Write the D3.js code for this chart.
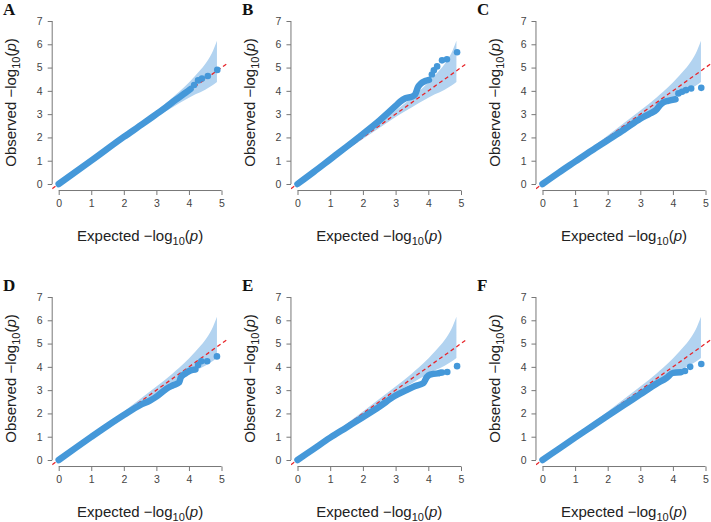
<!DOCTYPE html>
<html>
<head>
<meta charset="utf-8">
<script src="https://cdn.jsdelivr.net/npm/d3@7"></script>
<style>
  body { margin: 0; background: #fff; }
  .tick text { font-family: "Liberation Sans", Arial, sans-serif; font-size: 10.5px; fill: #444; }
  .tick line { stroke: #777; }
  .axis-title { font-family: "Liberation Sans", Arial, sans-serif; font-size: 15px; fill: #222; }
  .panel-label { font-family: "Liberation Serif", "Times New Roman", serif; font-weight: bold; font-size: 17px; fill: #111; }
</style>
</head>
<body>
<div id="chart"></div>
<script>
// ---- data ----
const panelLabels = ["A", "B", "C", "D", "E", "F"];
const xTicks = [0, 1, 2, 3, 4, 5];
const yTicks = [0, 1, 2, 3, 4, 5, 6, 7];

// 95% band (same in all panels)
const bandExpected = [0, 1, 2, 2.5, 3, 3.5, 3.7, 4.0, 4.2, 4.5, 4.7, 4.86];
const bandUpper    = [0.01, 1.03, 2.08, 2.62, 3.16, 3.72, 3.96, 4.36, 4.66, 5.15, 5.6, 6.15];
const bandLower    = [0, 0.96, 1.93, 2.41, 2.88, 3.3, 3.47, 3.7, 3.85, 4.05, 4.22, 4.38];

// dense run of points (expected, observed)
const denseA = [[0,0],[1,1],[2,2.02],[2.6,2.6],[3,3.0],[3.3,3.3],[3.6,3.62],[3.9,3.92],[4.05,4.08]];
const denseB = [[0,0],[0.5,0.52],[1,1.06],[1.5,1.6],[2,2.15],[2.5,2.72],[3,3.35],[3.15,3.55],[3.3,3.68],[3.5,3.75],[3.6,3.85],[3.68,4.15],[3.78,4.32],[3.9,4.42],[4.02,4.47]];
const denseC = [[0,0],[0.5,0.49],[1,0.96],[1.5,1.43],[2,1.88],[2.5,2.33],[3,2.8],[3.3,3.03],[3.5,3.2],[3.6,3.38],[3.7,3.5],[3.85,3.57],[4.08,3.64]];
const denseD = [[0,0],[0.5,0.5],[1,0.99],[1.5,1.47],[2,1.93],[2.5,2.36],[2.8,2.55],[3,2.72],[3.3,3.05],[3.5,3.2],[3.7,3.33],[3.75,3.55],[3.9,3.72],[4.05,3.85],[4.2,3.89]];
const denseE = [[0,0],[0.5,0.48],[1,0.96],[1.5,1.4],[2,1.84],[2.5,2.29],[3,2.77],[3.3,2.98],[3.6,3.18],[3.85,3.3],[3.95,3.55],[4.05,3.67],[4.3,3.72]];
const denseF = [[0,0],[0.5,0.48],[1,0.96],[1.5,1.43],[2,1.9],[2.5,2.36],[3,2.82],[3.5,3.28],[3.8,3.52],[4,3.74],[4.25,3.77]];

// isolated top points
const tailA = [[4.16,4.25],[4.28,4.45],[4.4,4.53],[4.58,4.64],[4.87,4.9]];
const tailB = [[4.11,4.7],[4.17,4.88],[4.27,5.05],[4.42,5.31],[4.57,5.36],[4.88,5.66]];
const tailC = [[4.17,3.89],[4.28,3.96],[4.4,4.03],[4.56,4.1],[4.87,4.13]];
const tailD = [[4.28,4.08],[4.38,4.24],[4.56,4.24],[4.86,4.45]];
const tailE = [[4.36,3.75],[4.42,3.76],[4.58,3.78],[4.88,4.03]];
const tailF = [[4.37,3.82],[4.53,4.0],[4.87,4.12]];

const denseAll = [denseA, denseB, denseC, denseD, denseE, denseF];
const tailAll = [tailA, tailB, tailC, tailD, tailE, tailF];

// ---- layout ----
const W = 711, H = 522;
const cols = [{x0: 58.7, x5: 221.5, lab: 3}, {x0: 297.5, x5: 461, lab: 242}, {x0: 542.5, x5: 705.5, lab: 477}];
const rows = [{y0: 184, y7: 21}, {y0: 460, y7: 297}];

const pointColor = "#4598d9";
const bandColor = "#b2d3f0";

const svg = d3.select("#chart").append("svg")
    .attr("width", W)
    .attr("height", H);

const band = bandExpected.map((x, i) => ({x: x, lo: bandLower[i], hi: bandUpper[i]}));

panelLabels.forEach((lab, i) => {
    let c = cols[i % 3], r = rows[Math.floor(i / 3)];
    let ux = (c.x5 - c.x0) / 5, uy = (r.y0 - r.y7) / 7;

    // plot region like base R: 4% extension
    let x = d3.scaleLinear().domain([-0.2, 5.2]).range([c.x0 - 0.2 * ux, c.x5 + 0.2 * ux]);
    let y = d3.scaleLinear().domain([-0.28, 7.28]).range([r.y0 + 0.28 * uy, r.y7 - 0.28 * uy]);

    let g = svg.append("g");

    let clipId = "clip" + i;
    g.append("clipPath").attr("id", clipId)
        .append("rect")
        .attr("x", x(-0.2)).attr("y", y(7.28))
        .attr("width", x(5.2) - x(-0.2)).attr("height", y(-0.28) - y(7.28));

    let plot = g.append("g").attr("clip-path", `url(#${clipId})`);

    // confidence band
    plot.append("path")
        .datum(band)
        .attr("fill", bandColor)
        .attr("d", d3.area().x(d => x(d.x)).y0(d => y(d.lo)).y1(d => y(d.hi)).curve(d3.curveMonotoneX));

    // y = x reference
    plot.append("line")
        .attr("x1", x(-0.2)).attr("y1", y(-0.2))
        .attr("x2", x(5.2)).attr("y2", y(5.2))
        .attr("stroke", "#e8252a")
        .attr("stroke-width", 1.3)
        .attr("stroke-dasharray", "4,3");

    // dense points drawn as a thick run
    plot.append("path")
        .datum(denseAll[i])
        .attr("fill", "none")
        .attr("stroke", pointColor)
        .attr("stroke-width", 6.5)
        .attr("stroke-linecap", "round")
        .attr("stroke-linejoin", "round")
        .attr("d", d3.line().x(d => x(d[0])).y(d => y(d[1])).curve(d3.curveMonotoneX));

    plot.selectAll(".pt")
        .data(tailAll[i])
        .enter().append("circle")
        .attr("class", "pt")
        .attr("cx", d => x(d[0]))
        .attr("cy", d => y(d[1]))
        .attr("r", 3.3)
        .attr("fill", pointColor);

    // axes
    let xAxis = d3.axisBottom(x).tickValues(xTicks).tickSize(4.5).tickPadding(5).tickFormat(d3.format("d"));
    let yAxis = d3.axisLeft(y).tickValues(yTicks).tickSize(4.5).tickPadding(5).tickFormat(d3.format("d"));

    let xg = g.append("g").attr("transform", `translate(0,${y(-0.28)})`).call(xAxis);
    xg.select(".domain").remove();
    xg.append("line").attr("x1", x(0)).attr("x2", x(5)).attr("stroke", "#777");

    let yg = g.append("g").attr("transform", `translate(${x(-0.2)},0)`).call(yAxis);
    yg.select(".domain").remove();
    yg.append("line").attr("y1", y(0)).attr("y2", y(7)).attr("stroke", "#777");

    // axis titles
    let xt = g.append("text").attr("class", "axis-title")
        .attr("x", (c.x0 + c.x5) / 2).attr("y", r.y0 + 57)
        .attr("text-anchor", "middle");
    xt.append("tspan").text("Expected  \u2212log");
    xt.append("tspan").attr("font-size", "11px").attr("dy", 4).text("10");
    xt.append("tspan").attr("dy", -4).text("(");
    xt.append("tspan").attr("font-style", "italic").text("p");
    xt.append("tspan").text(")");

    let yt = g.append("text").attr("class", "axis-title")
        .attr("transform", `translate(${x(-0.2) - 36},${(r.y0 + r.y7) / 2}) rotate(-90)`)
        .attr("text-anchor", "middle");
    yt.append("tspan").text("Observed  \u2212log");
    yt.append("tspan").attr("font-size", "11px").attr("dy", 4).text("10");
    yt.append("tspan").attr("dy", -4).text("(");
    yt.append("tspan").attr("font-style", "italic").text("p");
    yt.append("tspan").text(")");

    // panel letter
    g.append("text").attr("class", "panel-label")
        .attr("x", c.lab).attr("y", r.y7 - 6)
        .text(lab);
});
</script>
</body>
</html>
